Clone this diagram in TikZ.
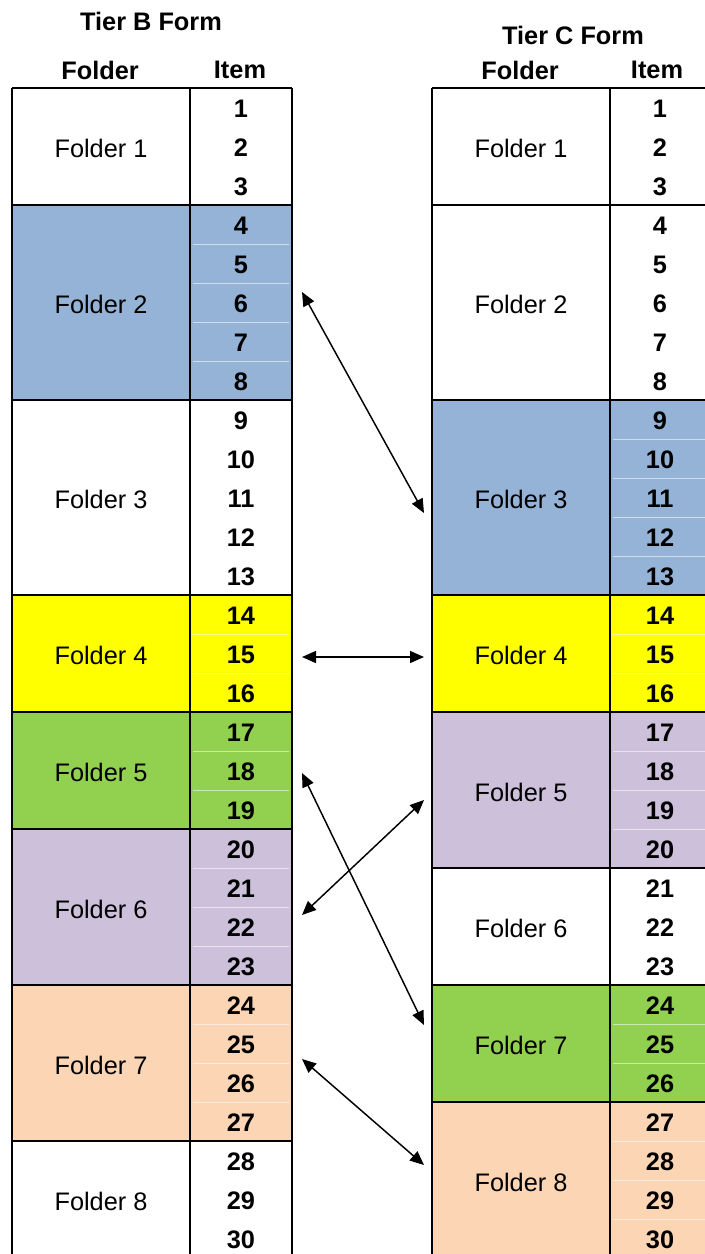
\documentclass[tikz,border=0pt]{standalone}
\usepackage{fontspec}
\setmainfont{Liberation Sans}
\usetikzlibrary{arrows.meta}
\definecolor{tblue}{HTML}{95B3D7}
\definecolor{tyellow}{HTML}{FFFF00}
\definecolor{tgreen}{HTML}{92D050}
\definecolor{tpurple}{HTML}{CCC0DA}
\definecolor{tpeach}{HTML}{FCD5B4}
\tikzset{
  folderlab/.style={inner sep=0pt, font=\fontsize{19}{22}\selectfont},
  itemlab/.style={inner sep=0pt, font=\fontsize{19}{22}\selectfont\bfseries},
  headlab/.style={inner sep=0pt, font=\fontsize{19}{22}\selectfont\bfseries},
  gridline/.style={line width=1.5pt, black},
  faintline/.style={line width=0.75pt, white, opacity=0.55},
  link/.style={line width=1.1pt, {Triangle[length=10.5pt,width=9pt]}-{Triangle[length=10.5pt,width=9pt]}}
}
\begin{document}
\begin{tikzpicture}[x=0.75pt, y=-0.75pt]
\useasboundingbox (0,0) rectangle (705,1254);
\begin{scope}
\clip (0,0) rectangle (705,1254);
% ---------- left table (Tier B) ----------
\foreach \a/\b/\c/\n in {0/3/white/1, 3/8/tblue/2, 8/13/white/3, 13/16/tyellow/4, 16/19/tgreen/5, 19/23/tpurple/6, 23/27/tpeach/7, 27/30/white/8}{
  \fill[\c] (12,{88+39*\a}) rectangle (292,{88+39*\b});
}
\foreach \k in {1,...,29}{
  \draw[faintline] (193,{88+39*\k}) -- (289,{88+39*\k});
}
\foreach \a/\b/\c/\n in {0/3/white/1, 3/8/tblue/2, 8/13/white/3, 13/16/tyellow/4, 16/19/tgreen/5, 19/23/tpurple/6, 23/27/tpeach/7, 27/30/white/8}{
  \draw[gridline] (12,{88+39*\a}) -- (292,{88+39*\a});
  \node[folderlab] (LF\n) at (101,{90+39*(\a+\b)/2}) {Folder \n};
}
\draw[gridline] (12,88) -- (12,1260);
\draw[gridline] (190,88) -- (190,1260);
\draw[gridline] (292,88) -- (292,1260);
\foreach \i in {1,...,30}{
  \node[itemlab] (LI\i) at (241,{89.5+39*(\i-0.5)}) {\i};
}
% ---------- right table (Tier C) ----------
\foreach \a/\b/\c/\n in {0/3/white/1, 3/8/white/2, 8/13/tblue/3, 13/16/tyellow/4, 16/20/tpurple/5, 20/23/white/6, 23/26/tgreen/7, 26/30/tpeach/8}{
  \fill[\c] (432,{88+39*\a}) rectangle (715,{88+39*\b});
}
\foreach \k in {1,...,29}{
  \draw[faintline] (613,{88+39*\k}) -- (710,{88+39*\k});
}
\foreach \a/\b/\c/\n in {0/3/white/1, 3/8/white/2, 8/13/tblue/3, 13/16/tyellow/4, 16/20/tpurple/5, 20/23/white/6, 23/26/tgreen/7, 26/30/tpeach/8}{
  \draw[gridline] (432,{88+39*\a}) -- (715,{88+39*\a});
  \node[folderlab] (RF\n) at (521,{90+39*(\a+\b)/2}) {Folder \n};
}
\draw[gridline] (432,88) -- (432,1260);
\draw[gridline] (610,88) -- (610,1260);
\foreach \i in {1,...,30}{
  \node[itemlab] (RI\i) at (660,{89.5+39*(\i-0.5)}) {\i};
}
\end{scope}
% ---------- headers ----------
\node[headlab] (hB) at (151,21) {Tier B Form};
\node[headlab] (hBf) at (100,70) {Folder};
\node[headlab] (hBi) at (240,70) {Item};
\node[headlab] (hC) at (573,35) {Tier C Form};
\node[headlab] (hCf) at (520,70) {Folder};
\node[headlab] (hCi) at (657,70) {Item};
% ---------- connectors ----------
\coordinate (a1l) at (302,292);  \coordinate (a1r) at (424,513);
\coordinate (a2l) at (302,657);  \coordinate (a2r) at (424,657);
\coordinate (a3l) at (302,773);  \coordinate (a3r) at (424,1025);
\coordinate (a4l) at (302,915);  \coordinate (a4r) at (424,800);
\coordinate (a5l) at (302,1059); \coordinate (a5r) at (424,1165);
\draw[link] (a1l) -- (a1r);
\draw[link] (a2l) -- (a2r);
\draw[link] (a3l) -- (a3r);
\draw[link] (a4l) -- (a4r);
\draw[link] (a5l) -- (a5r);
\end{tikzpicture}
\end{document}
